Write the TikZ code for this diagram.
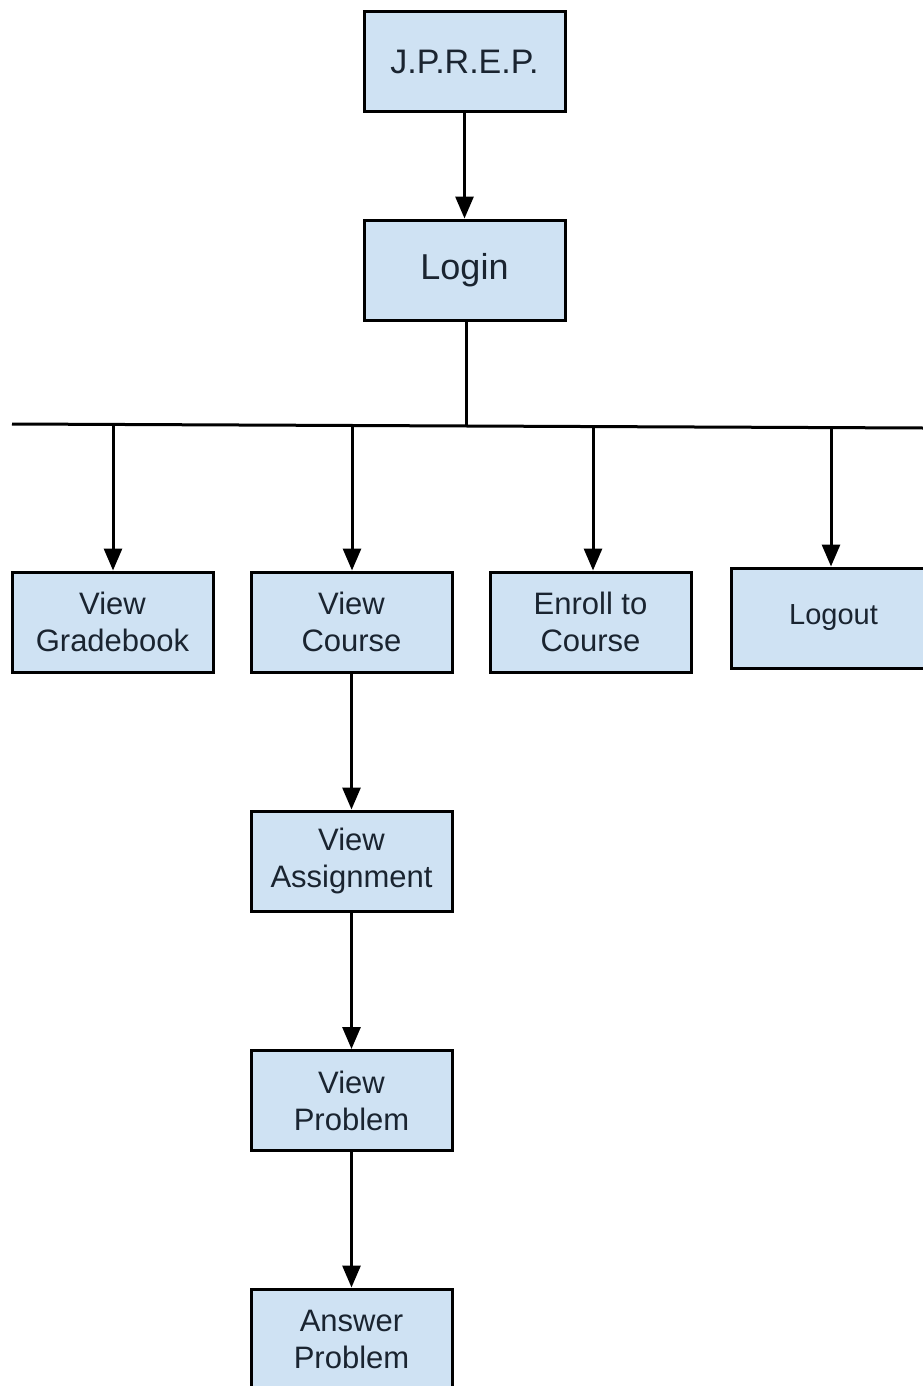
\documentclass[tikz,border=0pt]{standalone}
\usepackage{fontspec}
\setmainfont{Liberation Sans}
\usetikzlibrary{arrows.meta}
\definecolor{boxfill}{HTML}{CFE2F3}
\definecolor{txt}{HTML}{1A2430}
\begin{document}
\begin{tikzpicture}[x=1pt,y=-1pt,
  box/.style={draw=black, line width=3pt, fill=boxfill, text=txt,
    minimum width=201pt, minimum height=100pt, inner sep=0pt,
    align=center, font=\fontsize{31}{37}\selectfont},
  conn/.style={line width=3pt, draw=black},
  arr/.style={conn, -{Triangle[length=22pt,width=18pt]}}]
\useasboundingbox (0,0) rectangle (923,1386);
\fill[white] (0,0) rectangle (923,1386);
\clip (0,0) rectangle (923,1386);
\node[box, font=\fontsize{34}{37}\selectfont] (jprep) at (464.5,62) {J.P.R.E.P.};
\node[box, font=\fontsize{36}{37}\selectfont] (login) at (464.5,270) {Login};
\node[box] (grade) at (112.5,622) {View\\Gradebook};
\node[box] (course) at (351.5,622) {View\\Course};
\node[box] (enroll) at (590.5,622) {Enroll to\\Course};
\node[box, minimum width=205pt, font=\fontsize{29}{37}\selectfont] (logout) at (833.5,618) {Logout};
\node[box] (assign) at (351.5,861) {View\\Assignment};
\node[box] (problem) at (351.5,1100.5) {View\\Problem};
\node[box] (answer) at (351.5,1339) {Answer\\Problem};
\coordinate (busL) at (12,424);
\coordinate (busR) at (923,428);
\coordinate (busJ) at (466,425);
\draw[conn] (busL) -- (busR);
\draw[arr] (jprep) -- (login);
\draw[conn] (login.south -| busJ) -- (busJ);
\coordinate (d1) at (113,424.5);
\coordinate (d2) at (352,425);
\coordinate (d3) at (593,426);
\coordinate (d4) at (831,427);
\draw[arr] (d1) -- (d1 |- grade.north);
\draw[arr] (d2) -- (d2 |- course.north);
\draw[arr] (d3) -- (d3 |- enroll.north);
\draw[arr] (d4) -- (d4 |- logout.north);
\draw[arr] (course) -- (assign);
\draw[arr] (assign) -- (problem);
\draw[arr] (problem) -- (answer);
\end{tikzpicture}
\end{document}
